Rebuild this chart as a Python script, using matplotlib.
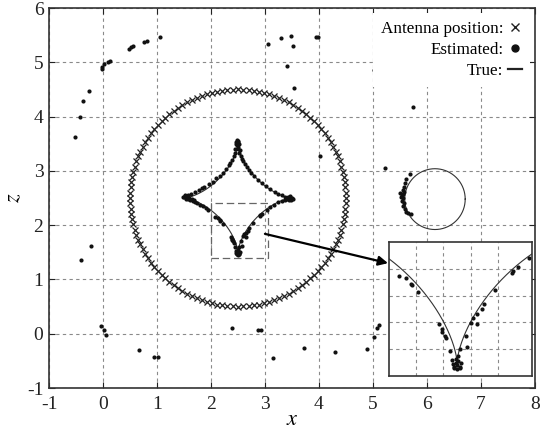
import numpy as np
import matplotlib
matplotlib.use('Agg')
import matplotlib.pyplot as plt
from matplotlib.lines import Line2D

plt.rcParams['font.family'] = ['Liberation Serif', 'DejaVu Serif']
plt.rcParams['mathtext.fontset'] = 'stix'
plt.rcParams['axes.unicode_minus'] = False

# antenna ring
ant_center = (2.5, 2.5)
ant_radius = 2.0
n_antennas = 128

# true targets: astroid and circle
astroid_center = (2.5, 2.5)
astroid_size = 1.0
circle_center = (6.15, 2.48)
circle_radius = 0.56

# estimated points - outer scatter
outer_x = [1.06, 0.81, 0.76, 0.56, 0.52, 0.48, 0.13, 0.09, 0.02, -0.02, -0.02,
           -0.26, -0.37, -0.43, -0.52, -0.40, -0.22,
           3.06, 3.30, 3.48, 3.52, 3.41, 3.54, 3.94, 3.99, 5.02, 5.09, 5.74,
           4.02, 5.22,
           -0.04, 0.02, 0.06, 0.67, 0.95, 1.02, 2.39, 2.87, 2.92, 3.15, 3.72,
           4.30, 4.89, 5.02, 5.07, 5.12]
outer_z = [5.47, 5.39, 5.37, 5.30, 5.28, 5.25, 5.02, 5.00, 4.97, 4.91, 4.88,
           4.47, 4.29, 3.99, 3.62, 1.35, 1.62,
           5.34, 5.45, 5.48, 5.30, 4.93, 4.53, 5.47, 5.46, 4.86, 4.78, 4.17,
           3.27, 3.05,
           0.14, 0.07, -0.02, -0.30, -0.42, -0.42, 0.11, 0.07, 0.06, -0.45, -0.26,
           -0.34, -0.28, -0.06, 0.11, 0.17]

# estimated points - astroid
astro_x = [2.50, 2.49, 2.52, 2.48, 2.51, 2.50, 2.53, 2.52, 2.55, 2.57, 2.60,
           2.63, 2.66, 2.70, 2.75, 2.80, 2.88, 2.95, 3.02, 3.10, 3.18, 3.25,
           3.32, 3.38, 3.43, 3.47, 3.50, 3.45, 3.40,
           2.47, 2.45, 2.44, 2.42, 2.39, 2.36, 2.33, 2.28, 2.22, 2.17, 2.10,
           2.03, 1.96, 1.88, 1.83, 1.78, 1.70, 1.63, 1.57, 1.52, 1.50, 1.55,
           1.48, 1.53, 1.58, 1.62, 1.66, 1.70, 1.75, 1.80, 1.85, 1.90, 1.95,
           2.07, 2.125, 2.16, 2.17, 2.215, 2.37, 2.39, 2.39, 2.41, 2.42, 2.45,
           2.46, 2.47, 2.48, 2.49, 2.50, 2.51, 2.52, 2.53, 2.49, 2.51,
           2.52, 2.565, 2.57, 2.60, 2.62, 2.65, 2.65, 2.68, 2.70, 2.90, 2.91,
           2.95, 2.78, 3.03, 3.10, 3.17, 3.24, 3.31, 3.38, 3.44,
           2.49, 2.51, 2.47, 1.52, 1.56, 1.60, 1.64, 1.68, 3.46, 3.42, 3.52,
           3.48, 2.50, 2.48, 2.52]
astro_z = [3.55, 3.52, 3.50, 3.47, 3.44, 3.41, 3.38, 3.33, 3.28, 3.22, 3.18,
           3.12, 3.08, 3.02, 2.96, 2.90, 2.84, 2.78, 2.72, 2.66, 2.62, 2.58,
           2.55, 2.52, 2.50, 2.51, 2.50, 2.47, 2.49,
           3.50, 3.40, 3.33, 3.28, 3.20, 3.15, 3.10, 3.03, 2.96, 2.90, 2.86,
           2.80, 2.75, 2.70, 2.68, 2.65, 2.61, 2.58, 2.55, 2.54, 2.52, 2.50,
           2.52, 2.49, 2.48, 2.46, 2.44, 2.42, 2.40, 2.38, 2.35, 2.32, 2.28,
           2.15, 2.13, 2.09, 2.08, 2.03, 1.79, 1.75, 1.73, 1.70, 1.68, 1.59,
           1.52, 1.49, 1.47, 1.50, 1.48, 1.51, 1.47, 1.50, 1.53, 1.55,
           1.60, 1.70, 1.62, 1.795, 1.83, 1.79, 1.86, 1.90, 1.94, 2.17, 2.18,
           2.21, 2.04, 2.28, 2.33, 2.38, 2.42, 2.45, 2.47, 2.49,
           3.56, 3.53, 3.54, 2.56, 2.53, 2.50, 2.49, 2.47, 2.53, 2.52, 2.49,
           2.46, 1.45, 1.46, 1.46]

# estimated points - circle target
circ_x = [5.62, 5.60, 5.57, 5.55, 5.58, 5.55, 5.53, 5.56, 5.54, 5.57, 5.55,
          5.60, 5.62, 5.65, 5.52, 5.50, 5.68, 5.70]
circ_z = [2.85, 2.78, 2.70, 2.65, 2.62, 2.58, 2.55, 2.50, 2.45, 2.40, 2.35,
          2.30, 2.25, 2.22, 2.52, 2.60, 2.95, 2.20]

est_x = outer_x + astro_x + circ_x
est_z = outer_z + astro_z + circ_z

# zoom box
zoom_xlim = (2.0, 3.05)
zoom_zlim = (1.4, 2.4)

t = np.linspace(0, 2 * np.pi, n_antennas, endpoint=False)
ant_x = ant_center[0] + ant_radius * np.cos(t)
ant_z = ant_center[1] + ant_radius * np.sin(t)
s = np.linspace(0, 2 * np.pi, 721)
ast_x = astroid_center[0] + astroid_size * np.cos(s) ** 3
ast_z = astroid_center[1] + astroid_size * np.sin(s) ** 3
cir_x = circle_center[0] + circle_radius * np.cos(s)
cir_z = circle_center[1] + circle_radius * np.sin(s)

fig = plt.figure(figsize=(5.41, 4.36), dpi=100)
ax = fig.add_axes([0.0906, 0.110, 0.898, 0.8716])

grid_kw = dict(color='#8a8a8a', ls=(0, (3, 3)), lw=0.8)
ax.plot(ant_x, ant_z, ls='none', marker='x', ms=4.5, mew=0.9, color='#222222', zorder=3)
ax.plot(ast_x, ast_z, color='#333333', lw=0.8, zorder=3)
ax.plot(cir_x, cir_z, color='#333333', lw=0.8, zorder=3)
ax.plot(est_x, est_z, ls='none', marker='o', ms=3.0, color='#111111', mew=0, zorder=4)

# zoom rectangle
ax.plot([zoom_xlim[0], zoom_xlim[1], zoom_xlim[1], zoom_xlim[0], zoom_xlim[0]],
        [zoom_zlim[0], zoom_zlim[0], zoom_zlim[1], zoom_zlim[1], zoom_zlim[0]],
        color='#666666', lw=0.9, ls=(0, (6, 3)), zorder=3)

ax.annotate('', xy=(5.28, 1.30), xytext=(3.0, 1.84),
            arrowprops=dict(arrowstyle='-|>', color='black', lw=1.6,
                            mutation_scale=14, shrinkA=0, shrinkB=0), zorder=5)

ax.set_xlim(-1, 8)
ax.set_ylim(-1, 6)
ax.set_xticks(range(-1, 9))
ax.set_yticks(range(-1, 7))
ax.grid(True, **grid_kw)
ax.set_axisbelow(True)
ax.tick_params(direction='in', top=True, right=True, length=4, width=0.8,
               labelsize=14, pad=4, colors='#222222')
ax.tick_params(axis='x', pad=6)
for sp in ax.spines.values():
    sp.set_linewidth(1.2)
    sp.set_color('#333333')
ax.set_xlabel('$x$', fontsize=16, labelpad=-2)
ax.set_ylabel('$z$', fontsize=16, labelpad=2)

handles = [Line2D([], [], ls='none', marker='x', ms=6, mew=1.0, color='#222222'),
           Line2D([], [], ls='none', marker='o', ms=5, color='#111111'),
           Line2D([], [], ls='-', lw=1.6, color='#222222')]
labels = ['Antenna position:', 'Estimated:', 'True:']
leg = ax.legend(handles, labels, loc='upper right', markerfirst=False, fontsize=12.3,
                handlelength=0.8, handletextpad=0.3, labelspacing=0.3,
                borderpad=0.45, borderaxespad=0.3, fancybox=False, framealpha=1,
                edgecolor='none', facecolor='white')
leg.set_zorder(6)

# inset
axi = fig.add_axes([0.719, 0.1376, 0.2643, 0.3073])
axi.set_facecolor('white')
axi.plot(ast_x, ast_z, color='#333333', lw=0.8)
axi.plot(est_x, est_z, ls='none', marker='o', ms=3.0, color='#111111', mew=0)
axi.set_xlim(*zoom_xlim)
axi.set_ylim(*zoom_zlim)
axi.set_xticks(np.arange(2.2, 3.0, 0.2))
axi.set_yticks(np.arange(1.6, 2.4, 0.2))
axi.grid(True, **grid_kw)
axi.set_axisbelow(True)
axi.tick_params(length=0, labelbottom=False, labelleft=False)
for sp in axi.spines.values():
    sp.set_linewidth(1.2)
    sp.set_color('#333333')

fig.savefig('out.png', dpi=100)
